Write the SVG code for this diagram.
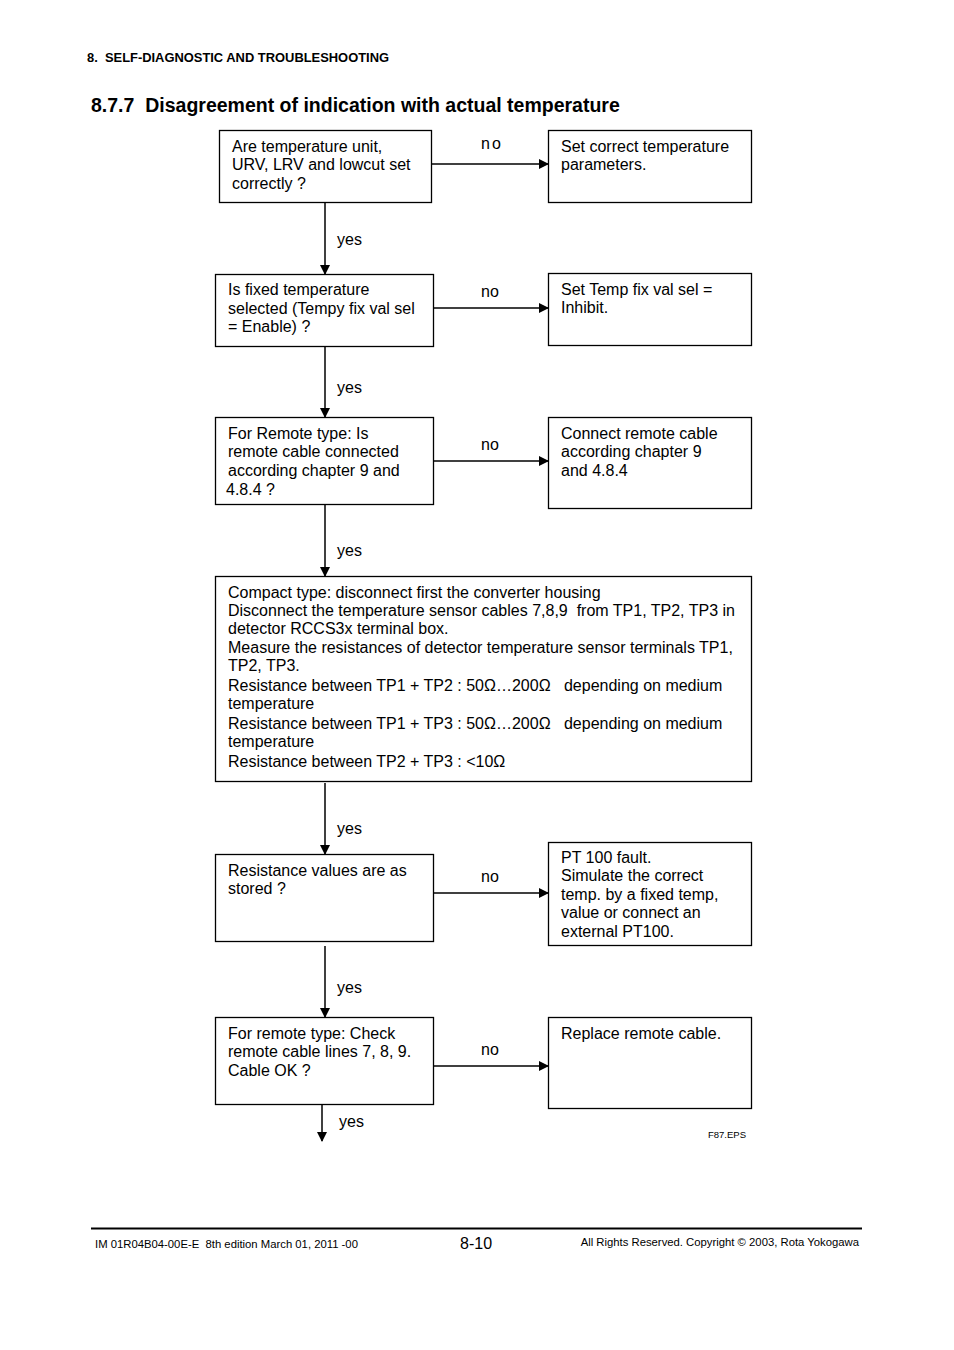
<svg xmlns="http://www.w3.org/2000/svg" width="954" height="1350" viewBox="0 0 954 1350" xml:space="preserve">
<style>
text{font-family:"Liberation Sans",Arial,sans-serif;fill:#000;white-space:pre}
.t{font-size:16px}
.box{fill:#fff;stroke:#000;stroke-width:1.3}
.c{stroke:#000;stroke-width:1.5;fill:none}
.lbl{font-size:16px}
</style>
<defs>
<marker id="ah" markerWidth="10" markerHeight="10" refX="9" refY="5" orient="auto" markerUnits="userSpaceOnUse">
<path d="M0,0 L10,5 L0,10 z" fill="#000"/>
</marker>
</defs>
<rect width="954" height="1350" fill="#fff"/>
<text x="87" y="62" style="font-size:12px;font-weight:bold" textLength="302" lengthAdjust="spacingAndGlyphs">8.  SELF-DIAGNOSTIC AND TROUBLESHOOTING</text>
<text x="91" y="112" style="font-size:19.5px;font-weight:bold">8.7.7  Disagreement of indication with actual temperature</text>
<g id="connectors">
<line class="c" x1="431" y1="164" x2="548" y2="164" marker-end="url(#ah)"/>
<line class="c" x1="433" y1="308" x2="548" y2="308" marker-end="url(#ah)"/>
<line class="c" x1="433" y1="461" x2="548" y2="461" marker-end="url(#ah)"/>
<line class="c" x1="433" y1="893" x2="548" y2="893" marker-end="url(#ah)"/>
<line class="c" x1="433" y1="1066" x2="548" y2="1066" marker-end="url(#ah)"/>
<line class="c" x1="325" y1="202" x2="325" y2="274" marker-end="url(#ah)"/>
<line class="c" x1="325" y1="346" x2="325" y2="417" marker-end="url(#ah)"/>
<line class="c" x1="325" y1="504" x2="325" y2="576" marker-end="url(#ah)"/>
<line class="c" x1="325" y1="783" x2="325" y2="854" marker-end="url(#ah)"/>
<line class="c" x1="325" y1="946" x2="325" y2="1017" marker-end="url(#ah)"/>
<line class="c" x1="322" y1="1104" x2="322" y2="1141" marker-end="url(#ah)"/>
<text class="lbl" x="481" y="149" letter-spacing="2">no</text>
<text class="lbl" x="481" y="297">no</text>
<text class="lbl" x="481" y="450">no</text>
<text class="lbl" x="481" y="882">no</text>
<text class="lbl" x="481" y="1055">no</text>
<text class="lbl" x="337" y="245">yes</text>
<text class="lbl" x="337" y="393">yes</text>
<text class="lbl" x="337" y="556">yes</text>
<text class="lbl" x="337" y="834">yes</text>
<text class="lbl" x="337" y="993">yes</text>
<text class="lbl" x="339" y="1127">yes</text>
</g>
<g id="q1">
<rect class="box" x="219.5" y="130.5" width="212" height="72"/>
<text class="t" x="232" y="152">Are temperature unit,</text>
<text class="t" x="232" y="170">URV, LRV and lowcut set</text>
<text class="t" x="232" y="189">correctly ?</text>
</g>
<g id="a1">
<rect class="box" x="548.5" y="130.5" width="203" height="72"/>
<text class="t" x="561" y="152">Set correct temperature</text>
<text class="t" x="561" y="170">parameters.</text>
</g>
<g id="q2">
<rect class="box" x="215.5" y="274.5" width="218" height="72"/>
<text class="t" x="228" y="295">Is fixed temperature</text>
<text class="t" x="228" y="314">selected (Tempy fix val sel</text>
<text class="t" x="228" y="332">= Enable) ?</text>
</g>
<g id="a2">
<rect class="box" x="548.5" y="273.5" width="203" height="72"/>
<text class="t" x="561" y="295">Set Temp fix val sel =</text>
<text class="t" x="561" y="313">Inhibit.</text>
</g>
<g id="q3">
<rect class="box" x="215.5" y="417.5" width="218" height="87"/>
<text class="t" x="228" y="439">For Remote type: Is</text>
<text class="t" x="228" y="457">remote cable connected</text>
<text class="t" x="228" y="476">according chapter 9 and</text>
<text class="t" x="226" y="495">4.8.4 ?</text>
</g>
<g id="a3">
<rect class="box" x="548.5" y="417.5" width="203" height="91"/>
<text class="t" x="561" y="439">Connect remote cable</text>
<text class="t" x="561" y="457">according chapter 9</text>
<text class="t" x="561" y="476">and 4.8.4</text>
</g>
<g id="measure">
<rect class="box" x="215.5" y="576.5" width="536" height="205"/>
<text class="t" x="228" y="598">Compact type: disconnect first the converter housing</text>
<text class="t" x="228" y="616">Disconnect the temperature sensor cables 7,8,9  from TP1, TP2, TP3 in</text>
<text class="t" x="228" y="634">detector RCCS3x terminal box.</text>
<text class="t" x="228" y="653">Measure the resistances of detector temperature sensor terminals TP1,</text>
<text class="t" x="228" y="671">TP2, TP3.</text>
<text class="t" x="228" y="691">Resistance between TP1 + TP2 : 50Ω…200Ω   depending on medium</text>
<text class="t" x="228" y="709">temperature</text>
<text class="t" x="228" y="729">Resistance between TP1 + TP3 : 50Ω…200Ω   depending on medium</text>
<text class="t" x="228" y="747">temperature</text>
<text class="t" x="228" y="767">Resistance between TP2 + TP3 : &lt;10Ω</text>
</g>
<g id="q5">
<rect class="box" x="215.5" y="854.5" width="218" height="87"/>
<text class="t" x="228" y="876">Resistance values are as</text>
<text class="t" x="228" y="894">stored ?</text>
</g>
<g id="a5">
<rect class="box" x="548.5" y="842.5" width="203" height="103"/>
<text class="t" x="561" y="863">PT 100 fault.</text>
<text class="t" x="561" y="881">Simulate the correct</text>
<text class="t" x="561" y="900">temp. by a fixed temp,</text>
<text class="t" x="561" y="918">value or connect an</text>
<text class="t" x="561" y="937">external PT100.</text>
</g>
<g id="q6">
<rect class="box" x="215.5" y="1017.5" width="218" height="87"/>
<text class="t" x="228" y="1039">For remote type: Check</text>
<text class="t" x="228" y="1057">remote cable lines 7, 8, 9.</text>
<text class="t" x="228" y="1076">Cable OK ?</text>
</g>
<g id="a6">
<rect class="box" x="548.5" y="1017.5" width="203" height="91"/>
<text class="t" x="561" y="1039">Replace remote cable.</text>
</g>
<text x="708" y="1138" style="font-size:9.5px">F87.EPS</text>
<line x1="91" y1="1228.5" x2="862" y2="1228.5" stroke="#000" stroke-width="2"/>
<text x="95" y="1248" style="font-size:11.3px">IM 01R04B04-00E-E  8th edition March 01, 2011 -00</text>
<text x="460" y="1249" style="font-size:16px">8-10</text>
<text x="859" y="1246" style="font-size:11.3px" text-anchor="end">All Rights Reserved. Copyright © 2003, Rota Yokogawa</text>
</svg>
